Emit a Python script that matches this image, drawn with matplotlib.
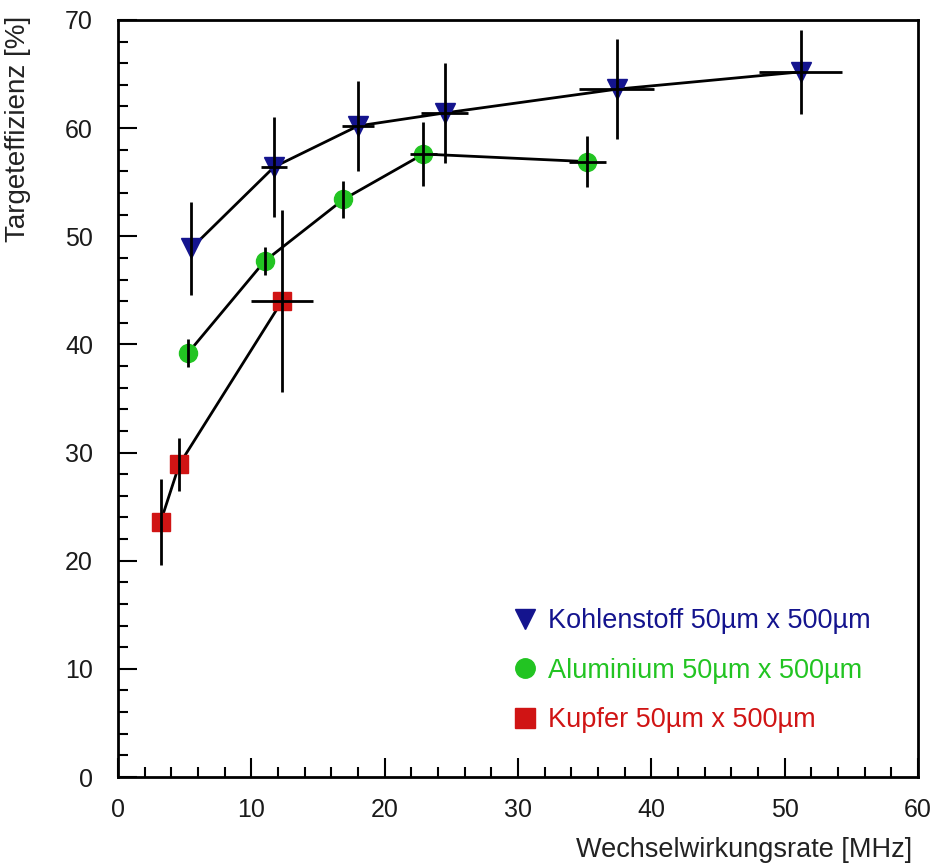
import matplotlib.pyplot as plt
from matplotlib.ticker import MultipleLocator
from matplotlib.lines import Line2D

plt.rcParams['font.family'] = ['Liberation Sans', 'DejaVu Sans']

# Kohlenstoff 50um x 500um
c_x = [5.5, 11.7, 18.0, 24.5, 37.4, 51.2]
c_y = [48.9, 56.4, 60.2, 61.4, 63.6, 65.2]
c_xerr = [0, 0.95, 1.2, 1.75, 2.8, 3.1]
c_yerr = [4.3, 4.6, 4.2, 4.6, 4.6, 3.9]

# Aluminium 50um x 500um
a_x = [5.25, 11.0, 16.9, 22.9, 35.2]
a_y = [39.2, 47.7, 53.4, 57.6, 56.9]
a_xerr = [0, 0, 0, 1.0, 1.4]
a_yerr = [1.3, 1.3, 1.7, 3.0, 2.35]

# Kupfer 50um x 500um
k_x = [3.2, 4.6, 12.3]
k_y = [23.6, 28.9, 44.0]
k_xerr = [0, 0, 2.35]
k_yerr = [4.0, 2.45, 8.4]

series = [
    (c_x, c_y, c_xerr, c_yerr, 'v', '#14148e', 14, 'Kohlenstoff 50µm x 500µm'),
    (a_x, a_y, a_xerr, a_yerr, 'o', '#22c422', 13, 'Aluminium 50µm x 500µm'),
    (k_x, k_y, k_xerr, k_yerr, 's', '#d01414', 13, 'Kupfer 50µm x 500µm'),
]

fig = plt.figure(figsize=(9.34, 8.67), dpi=100)
ax = fig.add_axes([0.1263, 0.1038, 0.8567, 0.8732])

handles = []
for x, y, xe, ye, m, col, ms, lab in series:
    ax.plot(x, y, '-', color='black', lw=2, zorder=2)
    ax.plot(x, y, m, color=col, markersize=ms, linestyle='none', zorder=3)
    ax.errorbar(x, y, xerr=xe, yerr=ye, fmt='none', ecolor='black',
                elinewidth=2, capsize=0, zorder=4)
    handles.append(Line2D([0], [0], marker=m, color=col, linestyle='none',
                          markersize=ms + 1, label=lab))

ax.set_xlim(0, 60)
ax.set_ylim(0, 70)
ax.xaxis.set_major_locator(MultipleLocator(10))
ax.xaxis.set_minor_locator(MultipleLocator(2))
ax.yaxis.set_major_locator(MultipleLocator(10))
ax.yaxis.set_minor_locator(MultipleLocator(2))
ax.tick_params(which='both', direction='in', top=False, right=False,
               labelsize=18, width=1.5, labelcolor='#1a1a1a')
ax.tick_params(which='major', length=14)
ax.tick_params(which='minor', length=7)
ax.tick_params(axis='x', which='major', pad=15)
ax.tick_params(axis='y', which='major', pad=18)
for s in ax.spines.values():
    s.set_linewidth(2)

leg = ax.legend(handles=handles, loc='upper left', bbox_to_anchor=(0.492, 0.223),
                frameon=False, fontsize=19.5, handletextpad=0.35,
                handlelength=1.0, labelspacing=0.87, borderpad=0,
                borderaxespad=0, labelcolor='linecolor')

fig.text(0.977, 0.005, 'Wechselwirkungsrate [MHz]', ha='right', va='bottom',
         fontsize=19.5, color='#222222')
fig.text(0.005, 0.982, 'Targeteffizienz [%]', ha='left', va='top',
         rotation=90, fontsize=20, color='#222222')

fig.savefig('out.png', dpi=100)
